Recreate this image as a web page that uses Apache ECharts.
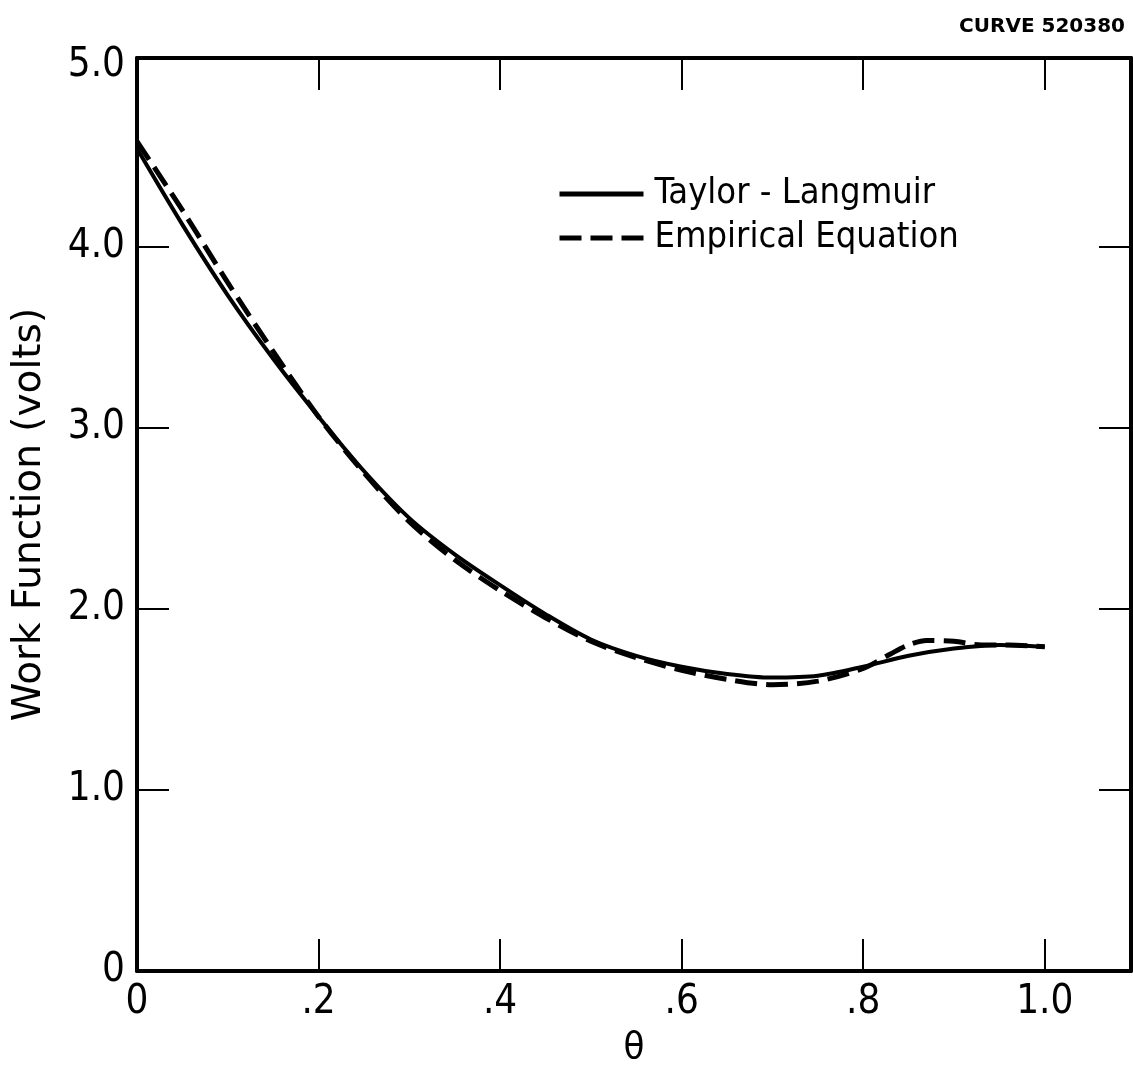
<!DOCTYPE html>
<html>
<head>
<meta charset="utf-8">
<script src="https://cdn.jsdelivr.net/npm/echarts@6/dist/echarts.min.js"></script>
<style>
html,body{margin:0;padding:0;background:#fff;}
#chart{width:1133px;height:1072px;}
</style>
</head>
<body>
<div id="chart"></div>
<script>
// Taylor - Langmuir (solid)
const thetaTL = [0, 0.05, 0.10, 0.15, 0.20, 0.25, 0.30, 0.35, 0.40, 0.45, 0.50, 0.55, 0.60, 0.65, 0.70, 0.75, 0.80, 0.85, 0.90, 0.95, 1.00];
const workTL  = [4.54, 4.12, 3.73, 3.38, 3.06, 2.76, 2.50, 2.30, 2.13, 1.97, 1.83, 1.74, 1.68, 1.64, 1.62, 1.63, 1.68, 1.74, 1.78, 1.80, 1.79];
// Empirical Equation (dashed)
const thetaEmp = [0, 0.05, 0.10, 0.15, 0.20, 0.25, 0.30, 0.35, 0.40, 0.45, 0.50, 0.55, 0.60, 0.65, 0.70, 0.75, 0.80, 0.83, 0.85, 0.87, 0.90, 0.93, 0.96, 1.00];
const workEmp  = [4.58, 4.20, 3.80, 3.42, 3.06, 2.75, 2.48, 2.27, 2.10, 1.95, 1.82, 1.73, 1.66, 1.61, 1.58, 1.60, 1.67, 1.75, 1.80, 1.825, 1.82, 1.80, 1.80, 1.79];
// Tick labels
const xTickValues = [0, 0.2, 0.4, 0.6, 0.8, 1.0];
const xTickLabels = ['0', '.2', '.4', '.6', '.8', '1.0'];
const yTickValues = [0, 1, 2, 3, 4, 5];
const yTickLabels = ['0', '1.0', '2.0', '3.0', '4.0', '5.0'];
const seriesNames = ['Taylor - Langmuir', 'Empirical Equation'];

const FONT = '"DejaVu Sans Condensed", "Liberation Sans Narrow", "DejaVu Sans", sans-serif';

function pairs(xs, ys) { return xs.map((x, i) => [x, ys[i]]); }
function lookup(vals, labels, v) {
  const i = vals.findIndex(t => Math.abs(t - v) < 1e-6);
  return i < 0 ? '' : labels[i];
}

const axisLine = { show: true, onZero: false, lineStyle: { color: '#000', width: 4 } };
function ticks(vals) {
  return { show: true, inside: true, length: 32, customValues: vals, lineStyle: { color: '#000', width: 2 } };
}
const xInnerTicks = xTickValues.slice(1);          // .2 ... 1.0
const yInnerTicks = yTickValues.slice(1, -1);      // 1 ... 4

const chart = echarts.init(document.getElementById('chart'), null, { renderer: 'canvas' });
chart.setOption({
  animation: false,
  backgroundColor: '#fff',
  title: {
    text: 'CURVE 520380',
    right: 3, top: 12,
    textStyle: { fontFamily: '"DejaVu Sans", sans-serif', fontWeight: 'bold', fontSize: 20, color: '#000' }
  },
  grid: { left: 137, right: 2, top: 58, bottom: 91 },
  legend: {
    orient: 'vertical',
    left: 552, top: 170,
    itemWidth: 84, itemHeight: 12, itemGap: 6,
    itemStyle: { opacity: 0 },
    lineStyle: { width: 5 },
    textStyle: { fontFamily: FONT, fontSize: 36, color: '#000', lineHeight: 38, padding: [0, 0, 0, 6] },
    data: seriesNames
  },
  xAxis: [
    {
      type: 'value', position: 'bottom', min: 0, max: 1.095, interval: 0.2,
      axisLine, axisTick: ticks(xInnerTicks), splitLine: { show: false },
      axisLabel: { show: true, margin: 12, customValues: xTickValues, fontFamily: FONT, fontSize: 40, color: '#000',
        formatter: v => lookup(xTickValues, xTickLabels, v) },
      name: 'θ', nameLocation: 'middle', nameGap: 58,
      nameTextStyle: { fontFamily: FONT, fontSize: 38, color: '#000' }
    },
    {
      type: 'value', position: 'top', min: 0, max: 1.095, interval: 0.2,
      axisLine, axisTick: ticks(xInnerTicks), splitLine: { show: false }, axisLabel: { show: false }
    }
  ],
  yAxis: [
    {
      type: 'value', position: 'left', min: 0, max: 5.04, interval: 1,
      axisLine, axisTick: ticks(yInnerTicks), splitLine: { show: false },
      axisLabel: { show: true, margin: 12, customValues: yTickValues, fontFamily: FONT, fontSize: 40, color: '#000',
        formatter: v => lookup(yTickValues, yTickLabels, v) },
      name: 'Work Function (volts)', nameLocation: 'middle', nameGap: 88, nameRotate: 90,
      nameTextStyle: { fontFamily: '"DejaVu Sans", sans-serif', fontSize: 39, color: '#000' }
    },
    {
      type: 'value', position: 'right', min: 0, max: 5.04, interval: 1,
      axisLine, axisTick: ticks(yInnerTicks), splitLine: { show: false }, axisLabel: { show: false }
    }
  ],
  series: [
    {
      name: seriesNames[0], type: 'line', data: pairs(thetaTL, workTL),
      smooth: 0.3, showSymbol: false, symbol: 'none',
      lineStyle: { color: '#000', width: 4 }, itemStyle: { color: '#000' }, z: 3
    },
    {
      name: seriesNames[1], type: 'line', data: pairs(thetaEmp, workEmp),
      smooth: 0.3, showSymbol: false, symbol: 'none',
      lineStyle: { color: '#000', width: 5, type: [22, 9] }, itemStyle: { color: '#000' }, z: 2
    }
  ]
});
</script>
</body>
</html>
